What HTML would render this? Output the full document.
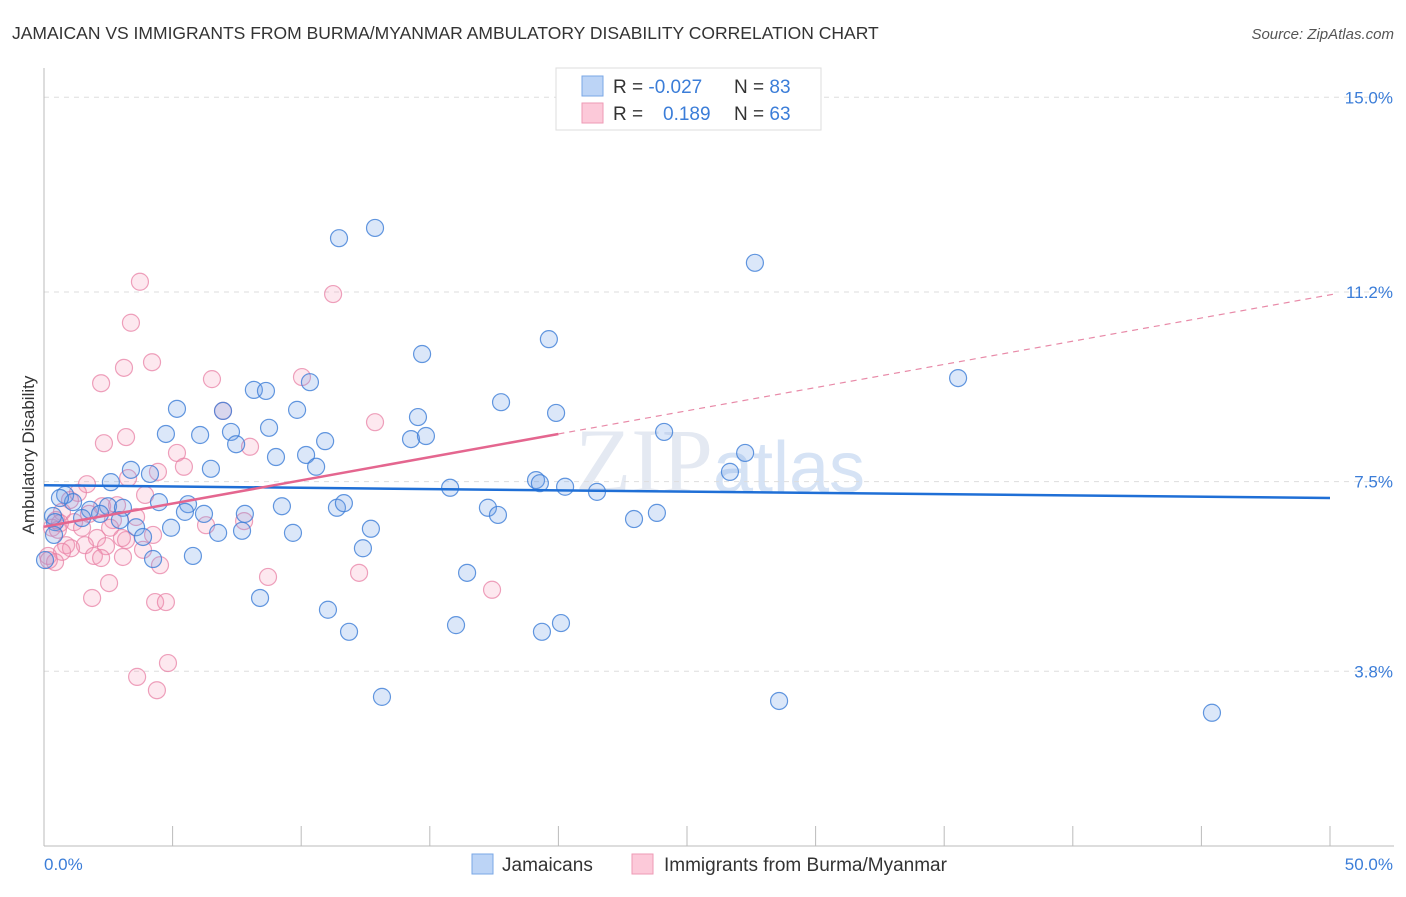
<!DOCTYPE html>
<html><head><meta charset="utf-8"><style>
body{margin:0;background:#fff;font-family:"Liberation Sans",sans-serif}
</style></head><body>
<svg id="chart" width="1406" height="892" xmlns="http://www.w3.org/2000/svg" font-family="Liberation Sans, sans-serif">
<text x="12" y="39" font-size="17.5" fill="#333">JAMAICAN VS IMMIGRANTS FROM BURMA/MYANMAR AMBULATORY DISABILITY CORRELATION CHART</text>
<text x="1394" y="39" font-size="15" fill="#555" text-anchor="end" font-style="italic">Source: ZipAtlas.com</text>
<text x="720" y="492" font-size="92" fill="#e4e9f2" text-anchor="middle" font-family="Liberation Serif, serif">ZIP<tspan font-family="Liberation Sans, sans-serif" font-size="72" fill="#d6e3f5">atlas</tspan></text>
<g id="grid"></g>
<line x1="44" y1="68" x2="44" y2="846" stroke="#bbb"/>
<line x1="44" y1="846" x2="1394" y2="846" stroke="#bbb"/>
<g id="xticks"></g>
<text transform="translate(34,455) rotate(-90)" font-size="17" fill="#333" text-anchor="middle">Ambulatory Disability</text>
<text x="44" y="870" font-size="17" fill="#3b7dd8">0.0%</text>
<text x="1393" y="870" font-size="17" fill="#3b7dd8" text-anchor="end">50.0%</text>
<g id="pink"></g><g id="blue"></g><g id="lines"></g>
<g>
<rect x="556" y="68" width="265" height="62" fill="#fff" stroke="#ddd"/>
<rect x="582" y="76" width="21" height="20" fill="#bcd4f6" stroke="#7aa7e6"/>
<rect x="582" y="103" width="21" height="20" fill="#fcc9d9" stroke="#ee9ab5"/>
<text x="613" y="93" font-size="19" fill="#333">R = <tspan fill="#3b7dd8">-0.027</tspan><tspan x="734">N = </tspan><tspan fill="#3b7dd8">83</tspan></text>
<text x="613" y="120" font-size="19" fill="#333">R = <tspan x="663" fill="#3b7dd8">0.189</tspan><tspan x="734">N = </tspan><tspan fill="#3b7dd8">63</tspan></text>
</g>
<g>
<rect x="472" y="854" width="21" height="20" fill="#bcd4f6" stroke="#7aa7e6"/>
<text x="502" y="871" font-size="19" fill="#333">Jamaicans</text>
<rect x="632" y="854" width="21" height="20" fill="#fcc9d9" stroke="#ee9ab5"/>
<text x="664" y="871" font-size="19" fill="#333">Immigrants from Burma/Myanmar</text>
</g>
</svg>
<script>
const yTicks=[15.0,11.2,7.5,3.8];
const yTickLabels=["15.0%","11.2%","7.5%","3.8%"];
const xTickValues=[0,5,10,15,20,25,30,35,40,45,50];
const blueX=[12.87,11.47,27.64,19.63,14.70,35.54,10.34,8.16,8.63,5.17,9.84,17.77,6.96,14.54,19.91,4.74,6.07,7.27,8.75,14.27,14.85,10.93,24.11,7.47,27.26,9.02,10.19,3.38,6.49,4.12,10.58,26.67,19.13,19.28,15.79,20.26,21.50,2.60,0.82,1.13,4.47,9.25,5.60,0.62,2.49,11.39,11.66,17.26,17.65,0.35,1.79,2.18,3.07,5.48,6.22,7.81,22.94,23.83,0.43,1.48,2.95,4.94,3.58,3.85,6.77,7.70,9.68,12.71,0.39,12.40,4.24,5.79,16.45,8.40,11.04,11.86,16.02,19.36,20.10,13.14,28.58,45.41,0.04];
const blueY=[12.45,12.25,11.77,10.28,9.99,9.52,9.44,9.29,9.27,8.92,8.90,9.05,8.88,8.76,8.84,8.43,8.41,8.47,8.55,8.33,8.39,8.29,8.47,8.23,8.06,7.98,8.02,7.73,7.75,7.65,7.79,7.69,7.53,7.47,7.38,7.40,7.30,7.49,7.24,7.10,7.10,7.02,7.06,7.18,7.02,6.99,7.08,6.99,6.85,6.83,6.95,6.87,6.99,6.91,6.87,6.87,6.77,6.89,6.71,6.79,6.75,6.60,6.61,6.42,6.50,6.54,6.50,6.58,6.46,6.20,5.99,6.05,5.72,5.23,5.00,4.57,4.70,4.57,4.74,3.30,3.22,2.99,5.97];
const pinkX=[3.73,11.24,3.38,4.20,3.11,2.22,6.53,10.03,6.96,12.87,3.19,2.33,8.01,5.17,5.44,4.43,3.27,1.67,3.93,1.32,1.01,2.26,2.84,0.70,1.75,0.47,1.17,3.58,7.78,2.68,1.48,2.57,4.24,2.06,3.19,0.86,1.59,1.05,2.41,3.85,0.70,1.94,3.07,2.22,0.16,0.43,4.51,0.19,8.71,12.25,2.53,17.42,1.87,4.32,4.74,4.82,3.62,4.39,0.31,0.62,6.30,0.54,3.03];
const pinkY=[11.40,11.16,10.60,9.83,9.72,9.42,9.50,9.54,8.88,8.66,8.37,8.25,8.18,8.06,7.79,7.69,7.57,7.45,7.24,7.28,7.14,7.02,7.04,6.91,6.87,6.75,6.71,6.81,6.73,6.75,6.60,6.60,6.46,6.40,6.36,6.26,6.26,6.20,6.24,6.17,6.13,6.05,6.03,6.01,6.05,5.93,5.87,5.97,5.64,5.72,5.52,5.39,5.23,5.15,5.15,3.96,3.69,3.43,6.60,6.69,6.65,6.56,6.40];
const blueTrend=[7.43,7.18];   // y at x=0 and x=50
const pinkTrend=[6.62,0.0905]; // intercept, slope
const pinkSolidEnd=20;
const sx=v=>44+v*25.72;
const sy=v=>866-v*51.25;
const NS="http://www.w3.org/2000/svg";
function mk(tag,attrs,parent){const e=document.createElementNS(NS,tag);for(const k in attrs)e.setAttribute(k,attrs[k]);parent.appendChild(e);return e;}
const grid=document.getElementById('grid');
yTicks.forEach((t,i)=>{
  const l=mk('line',{x1:44,x2:1394,y1:sy(t),y2:sy(t),stroke:'#ddd','stroke-dasharray':'5,5'},grid);
  
  
  const tx=mk('text',{x:1393,y:sy(t)+6,'font-size':17,fill:'#3b7dd8','text-anchor':'end'},grid);
  tx.textContent=yTickLabels[i];
  
  
});
const xt=document.getElementById('xticks');
xTickValues.forEach(v=>{
  const l=mk('line',{x1:sx(v),x2:sx(v),y1:826,y2:846,stroke:'#bbb'},xt);
  
  
});
function dots(X,Y,g,fill,stroke,name){
  X.forEach((x,i)=>{
    const c=mk('circle',{cx:sx(x),cy:sy(Y[i]),r:8.5,fill:fill,stroke:stroke,'stroke-width':1.2},g);
    
    
  });
}
dots(pinkX,pinkY,document.getElementById('pink'),'rgba(244,150,180,0.22)','rgba(232,130,165,0.75)','burma-point');
dots(blueX,blueY,document.getElementById('blue'),'rgba(110,160,230,0.25)','rgba(60,125,215,0.8)','jamaican-point');
const lg=document.getElementById('lines');
const bl=mk('line',{x1:sx(0),y1:sy(blueTrend[0]),x2:sx(50),y2:sy(blueTrend[1]),stroke:'#1f6fd6','stroke-width':2.5},lg);


const pf=x=>pinkTrend[0]+pinkTrend[1]*x;
const ps=mk('line',{x1:sx(0),y1:sy(pf(0)),x2:sx(pinkSolidEnd),y2:sy(pf(pinkSolidEnd)),stroke:'#e4668f','stroke-width':2.5},lg);


const pd=mk('line',{x1:sx(pinkSolidEnd),y1:sy(pf(pinkSolidEnd)),x2:sx(50.2),y2:sy(pf(50.2)),stroke:'#e88aa8','stroke-width':1.2,'stroke-dasharray':'6,5'},lg);


</script>
</body></html>
